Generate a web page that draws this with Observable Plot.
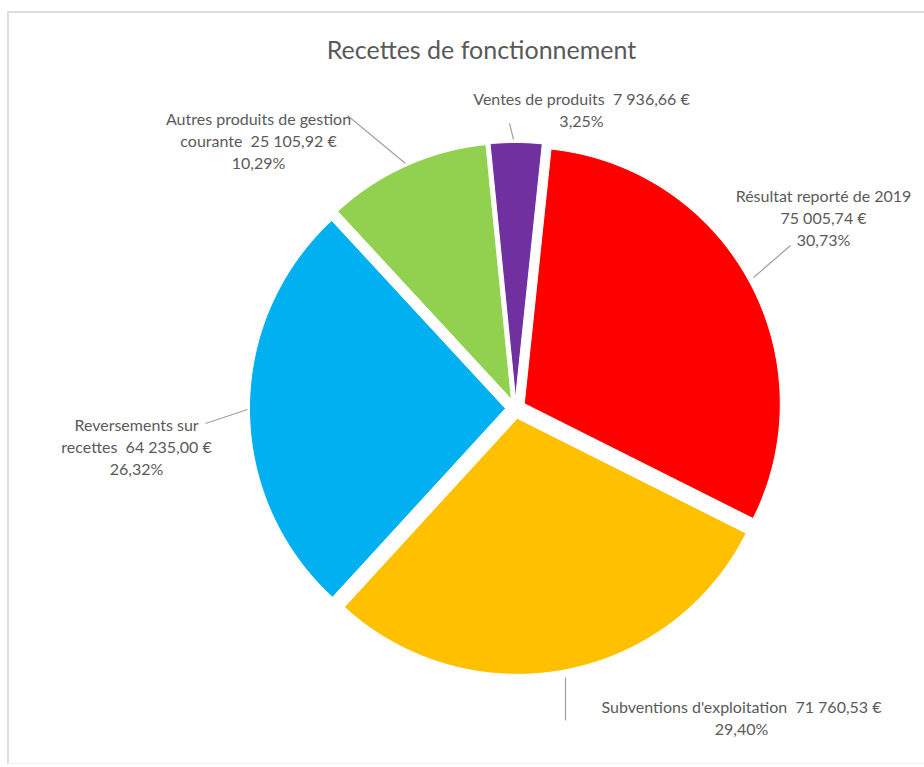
<!DOCTYPE html>
<html>
<head>
<meta charset="utf-8">
<script src="https://cdn.jsdelivr.net/npm/d3@7"></script>
<script src="https://cdn.jsdelivr.net/npm/@observablehq/plot@0.6"></script>
<style>
  html, body { margin: 0; background: #fff; overflow: hidden; width: 924px; height: 767px; }
  #chart { position: absolute; left: 0; top: 0; }
  #frame { position: absolute; left: 7px; top: 11px; width: 1000px; height: 750px;
           border-left: 2px solid #dedede; border-top: 2px solid #dedede;
           border-bottom: 1px solid #f2f2f2; pointer-events: none; }
</style>
</head>
<body>
<div id="chart"></div>
<div id="frame"></div>
<script>
// ---- data ----
const categories = [
  "Résultat reporté de 2019",
  "Subventions d'exploitation",
  "Reversements sur recettes",
  "Autres produits de gestion courante",
  "Ventes de produits"
];
const amounts = [75005.74, 71760.53, 64235.00, 25105.92, 7936.66];
const percents = [30.73, 29.40, 26.32, 10.29, 3.25];
const colors = ["#FF0000", "#FFC000", "#00B0F0", "#92D050", "#7030A0"];
const title = "Recettes de fonctionnement";

// label line layout (how each category name is broken / joined to its amount)
const nameLines = [
  ["Résultat reporté de 2019", ""],
  ["Subventions d'exploitation  "],
  ["Reversements sur", "recettes  "],
  ["Autres produits de gestion", "courante  "],
  ["Ventes de produits  "]
];

// ---- layout ----
const W = 924, H = 767;
const CX = 515, CY = 408, R = 256, EXPLODE = 10;
const START = 6 * Math.PI / 180;
const labelPos = [[823, 216], [741, 716], [136, 445], [258, 139], [581, 108]];
const leaders = [
  [790, 245, 753, 277],
  [565, 677, 565, 720],
  [205, 423, 247, 409],
  [347, 115, 405, 163],
  [509, 123, 513, 139]
];
const FONT = "Lato, sans-serif";

const fr = d3.formatLocale({decimal: ",", thousands: "\u00a0", grouping: [3], currency: ["", " €"]});
const fmtAmount = fr.format("$,.2f");
const fmtPct = fr.format(".2f");

const rows = categories.map((c, i) => ({name: c, amount: amounts[i], pct: percents[i]}));

const arcs = d3.pie().value(d => d.amount).sort(null)
  .startAngle(START).endAngle(START + 2 * Math.PI)(rows);

const pts = [];
arcs.forEach(a => {
  const mid = (a.startAngle + a.endAngle) / 2;
  const ox = CX + EXPLODE * Math.sin(mid), oy = CY - EXPLODE * Math.cos(mid);
  const name = a.data.name;
  pts.push({name, x: ox, y: oy});
  const n = Math.max(4, Math.ceil((a.endAngle - a.startAngle) / (Math.PI / 360)));
  for (let k = 0; k <= n; k++) {
    const ang = a.startAngle + (a.endAngle - a.startAngle) * k / n;
    pts.push({name, x: ox + R * Math.sin(ang), y: oy - R * Math.cos(ang)});
  }
  pts.push({name, x: ox, y: oy});
});

const labels = rows.map((d, i) => {
  const nl = nameLines[i];
  const last = nl[nl.length - 1] + fmtAmount(d.amount);
  const lines = nl.slice(0, -1).concat([last, fmtPct(d.pct) + "%"]);
  return {x: labelPos[i][0], y: labelPos[i][1], text: lines.join("\n")};
});

const leaderRows = leaders.map(l => ({x1: l[0], y1: l[1], x2: l[2], y2: l[3]}));

const chart = Plot.plot({
  width: W, height: H,
  margin: 0,
  style: {background: "transparent"},
  x: {domain: [0, W], range: [0, W], axis: null},
  y: {domain: [0, H], range: [0, H], axis: null},
  color: {domain: categories, range: colors},
  marks: [
    Plot.line(pts, {x: "x", y: "y", z: "name", fill: "name", stroke: "white", strokeWidth: 1, curve: "linear-closed"}),
    Plot.link(leaderRows, {x1: "x1", y1: "y1", x2: "x2", y2: "y2", stroke: "#a0a0a0", strokeWidth: 1.2}),
    Plot.text(labels, {x: "x", y: "y", text: "text", fontSize: 16, lineHeight: 1.38,
      fill: "#5a5a5a", textAnchor: "middle", lineAnchor: "middle", fontFamily: FONT}),
    Plot.text([title], {x: () => 481, y: () => 50, text: d => d, fontSize: 25,
      fill: "#595959", textAnchor: "middle", lineAnchor: "middle", fontFamily: FONT})
  ]
});
document.getElementById("chart").appendChild(chart);
</script>
</body>
</html>
